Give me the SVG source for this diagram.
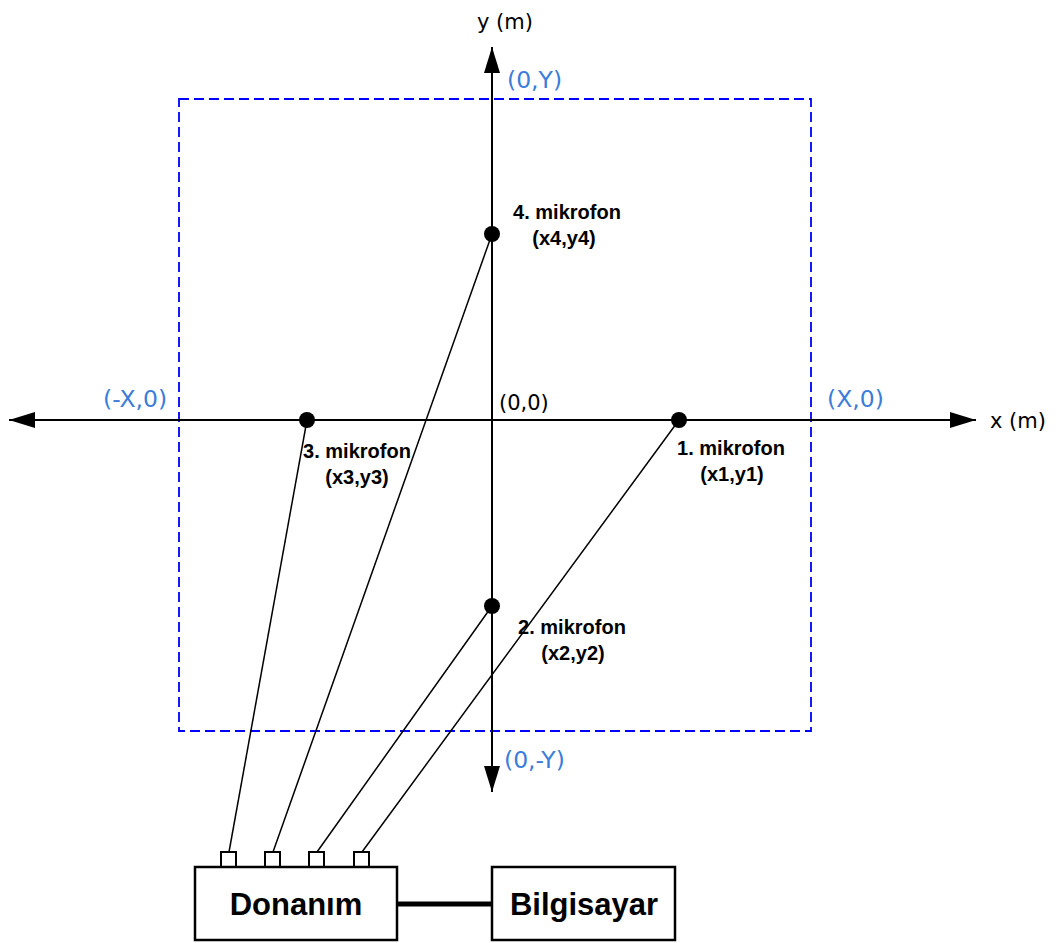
<svg xmlns="http://www.w3.org/2000/svg" width="1057" height="943" viewBox="0 0 1057 943">
<style>
.axis{stroke:#000;stroke-width:2;fill:none}
.wire{stroke:#000;stroke-width:1.5;fill:none}
.frame{stroke:#0000ff;stroke-width:1.8;fill:none;stroke-dasharray:10 5}
.dot{fill:#000}
.port{fill:#fff;stroke:#000;stroke-width:2}
.box{fill:#fff;stroke:#000;stroke-width:2.5}
.blue{font-family:"DejaVu Sans",sans-serif;font-size:23.5px;fill:#3b7dd8}
.ax{font-family:"DejaVu Sans",sans-serif;font-size:21px;fill:#000}
.mic{font-family:"Liberation Sans",Arial,sans-serif;font-size:20px;font-weight:bold;fill:#000;text-anchor:middle}
.big{font-family:"Liberation Sans",Arial,sans-serif;font-size:31px;font-weight:bold;fill:#000;text-anchor:middle}
</style>
<defs>
<marker id="arr" viewBox="0 0 26 16" refX="26" refY="8" markerWidth="26" markerHeight="16" markerUnits="userSpaceOnUse" orient="auto">
<path d="M0,0 L26,8 L0,16 Z" fill="#000"/>
</marker>
</defs>
<rect class="frame" x="179" y="99" width="632" height="632"/>
<g id="axes">
<line class="axis" x1="492" y1="420" x2="976" y2="420" marker-end="url(#arr)"/>
<line class="axis" x1="492" y1="420" x2="9" y2="420" marker-end="url(#arr)"/>
<line class="axis" x1="492" y1="420" x2="492" y2="47" marker-end="url(#arr)"/>
<line class="axis" x1="492" y1="420" x2="492" y2="792" marker-end="url(#arr)"/>
</g>
<g id="connectors">
<line class="wire" x1="307" y1="420" x2="229" y2="852"/>
<line class="wire" x1="492" y1="234" x2="273" y2="852"/>
<line class="wire" x1="492" y1="606" x2="317" y2="852"/>
<line class="wire" x1="679" y1="420" x2="362" y2="852"/>
<line x1="397" y1="904" x2="492" y2="904" stroke="#000" stroke-width="5"/>
</g>
<g id="labels">
<text class="ax" x="477" y="29">y (m)</text>
<text class="ax" x="990" y="428">x (m)</text>
<text class="ax" x="499" y="410">(0,0)</text>
<text class="blue" x="507" y="88">(0,Y)</text>
<text class="blue" x="504" y="768">(0,-Y)</text>
<text class="blue" x="103" y="407">(-X,0)</text>
<text class="blue" x="827" y="407">(X,0)</text>
</g>
<g id="mic4">
<circle class="dot" cx="492" cy="234" r="8"/>
<text class="mic" x="567" y="219">4. mikrofon</text>
<text class="mic" x="564" y="245">(x4,y4)</text>
</g>
<g id="mic3">
<circle class="dot" cx="307" cy="420" r="8"/>
<text class="mic" x="357" y="458">3. mikrofon</text>
<text class="mic" x="357" y="484">(x3,y3)</text>
</g>
<g id="mic1">
<circle class="dot" cx="679" cy="420" r="8"/>
<text class="mic" x="731" y="455">1. mikrofon</text>
<text class="mic" x="732" y="481">(x1,y1)</text>
</g>
<g id="mic2">
<circle class="dot" cx="492" cy="606" r="8"/>
<text class="mic" x="572" y="634">2. mikrofon</text>
<text class="mic" x="573" y="660">(x2,y2)</text>
</g>
<g id="donanim">
<rect class="port" x="221" y="852" width="15" height="15"/>
<rect class="port" x="265" y="852" width="15" height="15"/>
<rect class="port" x="309" y="852" width="15" height="15"/>
<rect class="port" x="354" y="852" width="15" height="15"/>
<rect class="box" x="195" y="867" width="202" height="73"/>
<text class="big" x="296" y="915">Donanım</text>
</g>
<g id="bilgisayar">
<rect class="box" x="492" y="867" width="183" height="73"/>
<text class="big" x="584" y="915">Bilgisayar</text>
</g>
</svg>
